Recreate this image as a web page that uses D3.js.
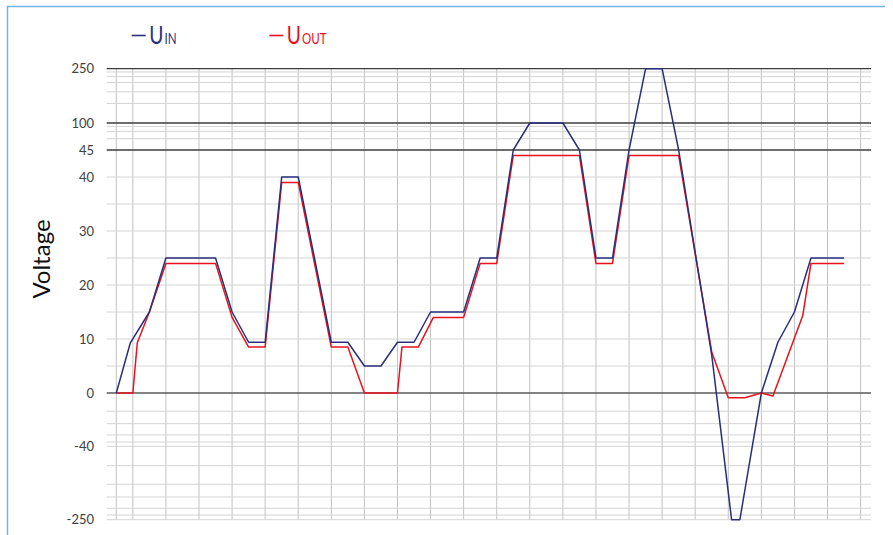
<!DOCTYPE html>
<html>
<head>
<meta charset="utf-8">
<script src="https://cdn.jsdelivr.net/npm/d3@7"></script>
<style>
  html, body { margin: 0; padding: 0; background: #fff; }
  svg { display: block; font-family: Lato, "Open Sans", sans-serif; }
</style>
</head>
<body>
<svg id="chart" width="893" height="535"></svg>
<script>
// Input voltage trace (step number, volts)
const uinX = [0, 0.85, 2, 3, 6, 7, 8, 9, 10, 11, 13, 14, 15, 16, 17, 18, 19, 21, 22, 23, 24, 25, 27, 28, 29, 30, 31, 32, 33, 34, 36, 37.2, 37.7, 39, 40, 41, 42, 44];
const uinY = [0, 9.3, 15, 25, 25, 15, 9.4, 9.4, 40, 40, 9.4, 9.4, 5, 5, 9.4, 9.4, 15, 15, 25, 25, 45, 100, 100, 45, 25, 25, 45, 250, 250, 45, 7, -250, -250, 0, 9.4, 15, 25, 25];

// Output voltage trace (step number, volts)
const uoutX = [0, 1, 1.27, 2, 3, 6, 7, 8, 9, 10, 11, 13, 14, 15, 17, 17.27, 18.26, 19.17, 21, 22, 23, 24, 28, 29, 30, 31, 34, 36, 37, 38, 39, 39.7, 41.5, 42, 44];
const uoutY = [0, 0, 9.3, 15, 24, 24, 14, 8.5, 8.5, 39, 39, 8.5, 8.5, 0, 0, 8.5, 8.5, 14, 14, 24, 24, 44, 44, 24, 24, 44, 44, 7.6, -3.5, -3.5, 0, -2.25, 14.3, 24, 24];

// Segmented voltage axis: breakpoints and labelled ticks
const yBreaks = [-250, -40, 0, 45, 100, 250];
const yTickLabels = [250, 100, 45, 40, 30, 20, 10, 0, -40, -250];
const yMajor = [250, 100, 45, 0];
const yMinor = [241, 228, 212, 186, 154, 93, 83, 68, 40, 35, 30, 25, 20, 15, 10, 5,
                -13.7, -23, -31.5, -36.8, -40, -95.5, -148.7, -185, -217.4, -236.6, -250];
const xGrid = [0, 1, 3, 5, 7, 9, 11, 13, 15, 17, 19, 21, 23, 25, 27, 29, 31, 33, 35, 37, 39, 41, 43, 45];

const svg = d3.select("#chart");
const plotLeft = 106.7, plotRight = 871;

const x = d3.scaleLinear().domain([0, 44]).range([116.3, 116.3 + 44 * 16.54]);
const y = d3.scaleLinear().domain(yBreaks).range([519.7, 446.3, 393, 150, 123, 68.7]);

// frame
svg.append("path")
  .attr("d", "M7.5,535 V6.5 H885")
  .attr("fill", "none").attr("stroke", "#74b4e4").attr("stroke-width", 1.5);

// vertical grid
svg.append("g").selectAll("line").data(xGrid).join("line")
  .attr("x1", d => x(d)).attr("x2", d => x(d))
  .attr("y1", y(250)).attr("y2", y(-250))
  .attr("stroke", "#c2c2c2").attr("stroke-width", 1);

// minor horizontal grid
svg.append("g").selectAll("line").data(yMinor).join("line")
  .attr("x1", plotLeft).attr("x2", plotRight)
  .attr("y1", d => y(d)).attr("y2", d => y(d))
  .attr("stroke", "#d4d4d4").attr("stroke-width", 1);

// major horizontal lines
svg.append("g").selectAll("line").data(yMajor).join("line")
  .attr("x1", plotLeft).attr("x2", plotRight)
  .attr("y1", d => y(d)).attr("y2", d => y(d))
  .attr("stroke", d => d === 0 ? "#5a5a5a" : "#3c3c3c").attr("stroke-width", 1.3);

// tick labels
svg.append("g").selectAll("text").data(yTickLabels).join("text")
  .attr("x", 94).attr("y", d => y(d)).attr("dy", "0.35em")
  .attr("text-anchor", "end")
  .attr("font-size", 13).attr("fill", "#404040")
  .text(d => d);

// axis title
svg.append("text")
  .attr("transform", "translate(50,259) rotate(-90)")
  .attr("text-anchor", "middle")
  .attr("font-size", 24).attr("fill", "#111")
  .text("Voltage");

const line = d3.line().x(d => x(d[0])).y(d => y(d[1]));

svg.append("path")
  .datum(d3.zip(uoutX, uoutY))
  .attr("d", line).attr("fill", "none")
  .attr("stroke", "#e8131c").attr("stroke-width", 1.5).attr("stroke-linejoin", "round");

svg.append("path")
  .datum(d3.zip(uinX, uinY))
  .attr("d", line).attr("fill", "none")
  .attr("stroke", "#2a2f7c").attr("stroke-width", 1.5).attr("stroke-linejoin", "round");

// legend: dash, then a condensed "U" with small-caps subscript
const legend = [
  { main: "U", sub: "IN", color: "#2a2f7c", x0: 131.7 },
  { main: "U", sub: "OUT", color: "#e8131c", x0: 269.3 }
];
legend.forEach(l => {
  svg.append("line")
    .attr("x1", l.x0).attr("x2", l.x0 + 14).attr("y1", 35.5).attr("y2", 35.5)
    .attr("stroke", l.color).attr("stroke-width", 1.6);
  const t = svg.append("text")
    .attr("transform", `translate(${l.x0 + 17.5},43.7) scale(0.77,1)`)
    .attr("fill", l.color);
  t.append("tspan").attr("font-size", 25).text(l.main);
  t.append("tspan").attr("font-size", 15).attr("dx", 1.5).text(l.sub);
});
</script>
</body>
</html>
